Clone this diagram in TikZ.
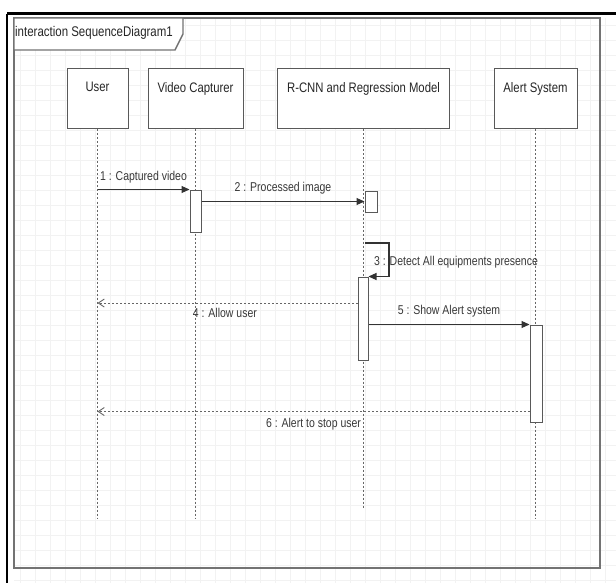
\documentclass[tikz,border=0pt]{standalone}
\usepackage{fontspec}
\setmainfont{Liberation Sans}[FakeStretch=0.82]
\usetikzlibrary{arrows.meta,positioning,backgrounds}
\tikzset{
  >=Latex,
  gridline/.style={draw=black!5, line width=0.6pt},
  frameline/.style={draw=black!55, line width=1.4pt},
  head/.style={draw=black!65, line width=1pt, fill=white, minimum height=60pt,
    inner sep=0pt},
  headlab/.style={anchor=north, yshift=-10pt, text=black!85,
    font=\fontsize{13.8}{16}\selectfont},
  life/.style={draw=black!60, line width=0.9pt, dash pattern=on 2pt off 2pt},
  act/.style={draw=black!65, line width=1pt, fill=white, inner sep=0pt},
  call/.style={-{Triangle[length=8pt,width=7pt]}, line width=1.1pt, draw=black!80},
  reply/.style={-{Straight Barb[length=6pt,width=8pt]}, line width=0.9pt,
    draw=black!60, dash pattern=on 2pt off 2pt},
  msglab/.style={font=\fontsize{12.8}{14}\selectfont, text=black!78, inner sep=1pt}
}

\begin{document}
\begin{tikzpicture}[x=1pt,y=-1pt]
\useasboundingbox (0,0) rectangle (616,583);

% ------------------------------------------------------------------
% sheet: grid and frame
% ------------------------------------------------------------------
\foreach \gx in {20,35,...,605} \draw[gridline] (\gx,18) -- (\gx,583);
\foreach \gy in {25,40,...,580} \draw[gridline] (14,\gy) -- (616,\gy);

\draw[frameline] (14,18) rectangle (600,568);
\draw[frameline, fill=white] (14,18) -- (183,18) -- (183,34) -- (175,50) -- (14,50) -- cycle;
\node[anchor=west, inner sep=1pt, text=black!85, font=\fontsize{14}{16}\selectfont]
  (frametitle) at (14,33) {interaction SequenceDiagram1};

\draw[line width=3pt] (7,14) -- (616,14);
\draw[line width=2.5pt] (7,14) -- (7,583);

% ------------------------------------------------------------------
% lifelines
% ------------------------------------------------------------------
\node[head, minimum width=61pt, label={[headlab]north:User}] (user) at (97.5,99) {};
\node[head, minimum width=95pt, label={[headlab]north:Video Capturer}] (video) at (195.5,99) {};
\node[head, minimum width=172pt, label={[headlab]north:R-CNN and Regression Model}] (rcnn) at (363.5,99) {};
\node[head, minimum width=83pt, label={[headlab]north:Alert System}] (alert) at (535.5,99) {};

\coordinate (lifeend) at (0,518);
\coordinate (rcnnend) at (0,508);
\draw[life] (user.south) -- (user.south |- lifeend);
\draw[life] (video.south) -- (video.south |- lifeend);
\draw[life] (rcnn.south) -- (rcnn.south |- rcnnend);
\draw[life] (alert.south) -- (alert.south |- lifeend);

% activations
\node[act, minimum width=11pt, minimum height=42pt] (vidact) at (195.5,211) {};
\node[act, minimum width=12pt, minimum height=21pt] (rcnnbox) at (371,201.5) {};
\node[act, minimum width=10pt, minimum height=83pt] (rcnnact) at (363,318.5) {};
\node[act, minimum width=12pt, minimum height=97pt] (alertact) at (536,373.5) {};

% ------------------------------------------------------------------
% messages
% ------------------------------------------------------------------
\draw[call] (user.south |- vidact.north) -- (vidact.north west)
  node[msglab, midway, above=5pt] {1 : Captured video};
\draw[call] (vidact.east |- rcnnbox.west) -- (rcnnbox.west)
  node[msglab, midway, above=6pt] {2 : Processed image};

\coordinate (selfA) at (365,243);
\draw[call] (selfA) -- ++(24,0) |- (rcnnact.north east);
\node[msglab] (detect) at (456,262) {3 : Detect All equipments presence};

\coordinate (r4) at ([yshift=15.5pt]rcnnact.west);
\draw[reply] (r4) -- (user.south |- r4)
  node[msglab, pos=0.51, below=4pt] {4 : Allow user};

\draw[call] (rcnnact.east |- alertact.north) -- (alertact.north west)
  node[msglab, midway, above=6pt] {5 : Show Alert system};

\coordinate (r6) at ([yshift=11pt]alertact.south west);
\draw[reply] (r6) -- (user.south |- r6)
  node[msglab, midway, below=5pt] {6 : Alert to stop user};

\end{tikzpicture}
\end{document}
